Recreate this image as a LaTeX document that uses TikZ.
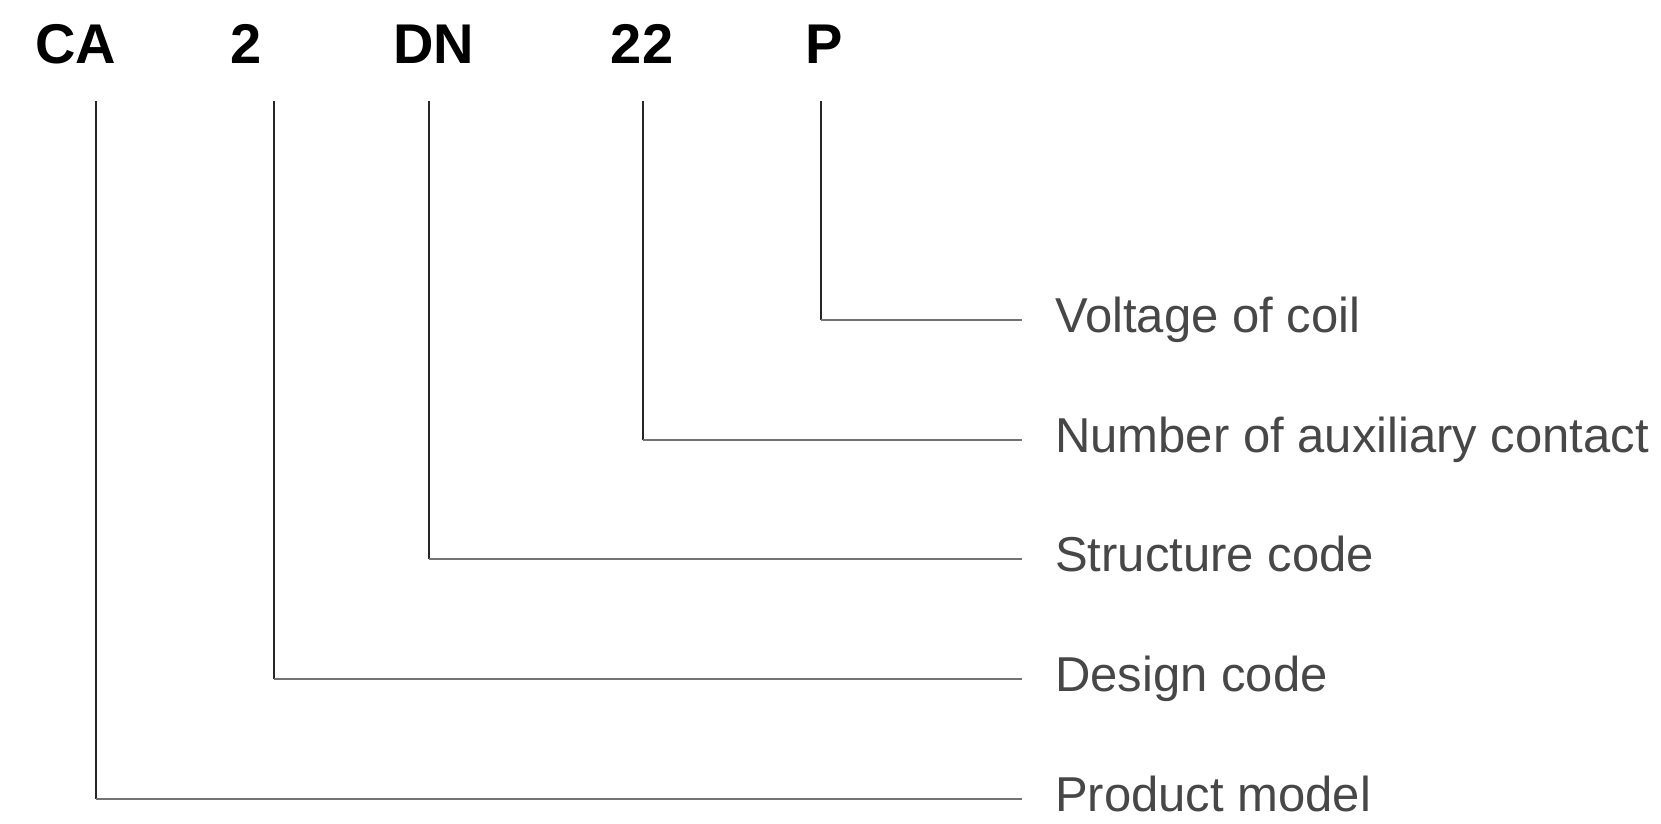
\documentclass[tikz,border=0pt]{standalone}
\usepackage{fontspec}
\setmainfont{Liberation Sans}
\usepackage{tikz}
\usetikzlibrary{positioning,calc}
\tikzset{
  code/.style={font=\fontsize{56}{60}\selectfont\bfseries,inner sep=0pt,anchor=base},
  lbl/.style={font=\fontsize{49}{56}\selectfont,text=black!72,inner sep=0pt,anchor=west,text height=35pt,text depth=10pt},
  vln/.style={draw=black!85,line width=2pt},
  hln/.style={draw=black!55,line width=2.2pt},
}
\begin{document}
\begin{tikzpicture}[x=1pt,y=-1pt]
  \useasboundingbox (0,0) rectangle (1661,823);
  % model code
  \node[code] (ca) at (76,63) {CA};
  \node[code] (dsg) at (246,63) {2};
  \node[code] (dn) at (434,63) {DN};
  \node[code] (aux) at (642,63) {22};
  \node[code] (p) at (824,63) {P};
  % line tops
  \coordinate (tca) at (96,101);
  \coordinate (tdsg) at (274,101);
  \coordinate (tdn) at (429,101);
  \coordinate (taux) at (643,101);
  \coordinate (tp) at (821,101);
  % meanings
  \node[lbl] (lp) at (1055,320) {Voltage of coil};
  \node[lbl] (laux) at (1055,440) {Number of auxiliary contact};
  \node[lbl] (ldn) at (1055,559) {Structure code};
  \node[lbl] (ldsg) at (1055,679) {Design code};
  \node[lbl] (lca) at (1055,799) {Product model};
  % leaders
  \draw[vln] (tp) -- (tp |- lp.west);
  \draw[hln] (tp |- lp.west) -- ([xshift=-33pt]lp.west);
  \draw[vln] (taux) -- (taux |- laux.west);
  \draw[hln] (taux |- laux.west) -- ([xshift=-33pt]laux.west);
  \draw[vln] (tdn) -- (tdn |- ldn.west);
  \draw[hln] (tdn |- ldn.west) -- ([xshift=-33pt]ldn.west);
  \draw[vln] (tdsg) -- (tdsg |- ldsg.west);
  \draw[hln] (tdsg |- ldsg.west) -- ([xshift=-33pt]ldsg.west);
  \draw[vln] (tca) -- (tca |- lca.west);
  \draw[hln] (tca |- lca.west) -- ([xshift=-33pt]lca.west);
\end{tikzpicture}
\end{document}
